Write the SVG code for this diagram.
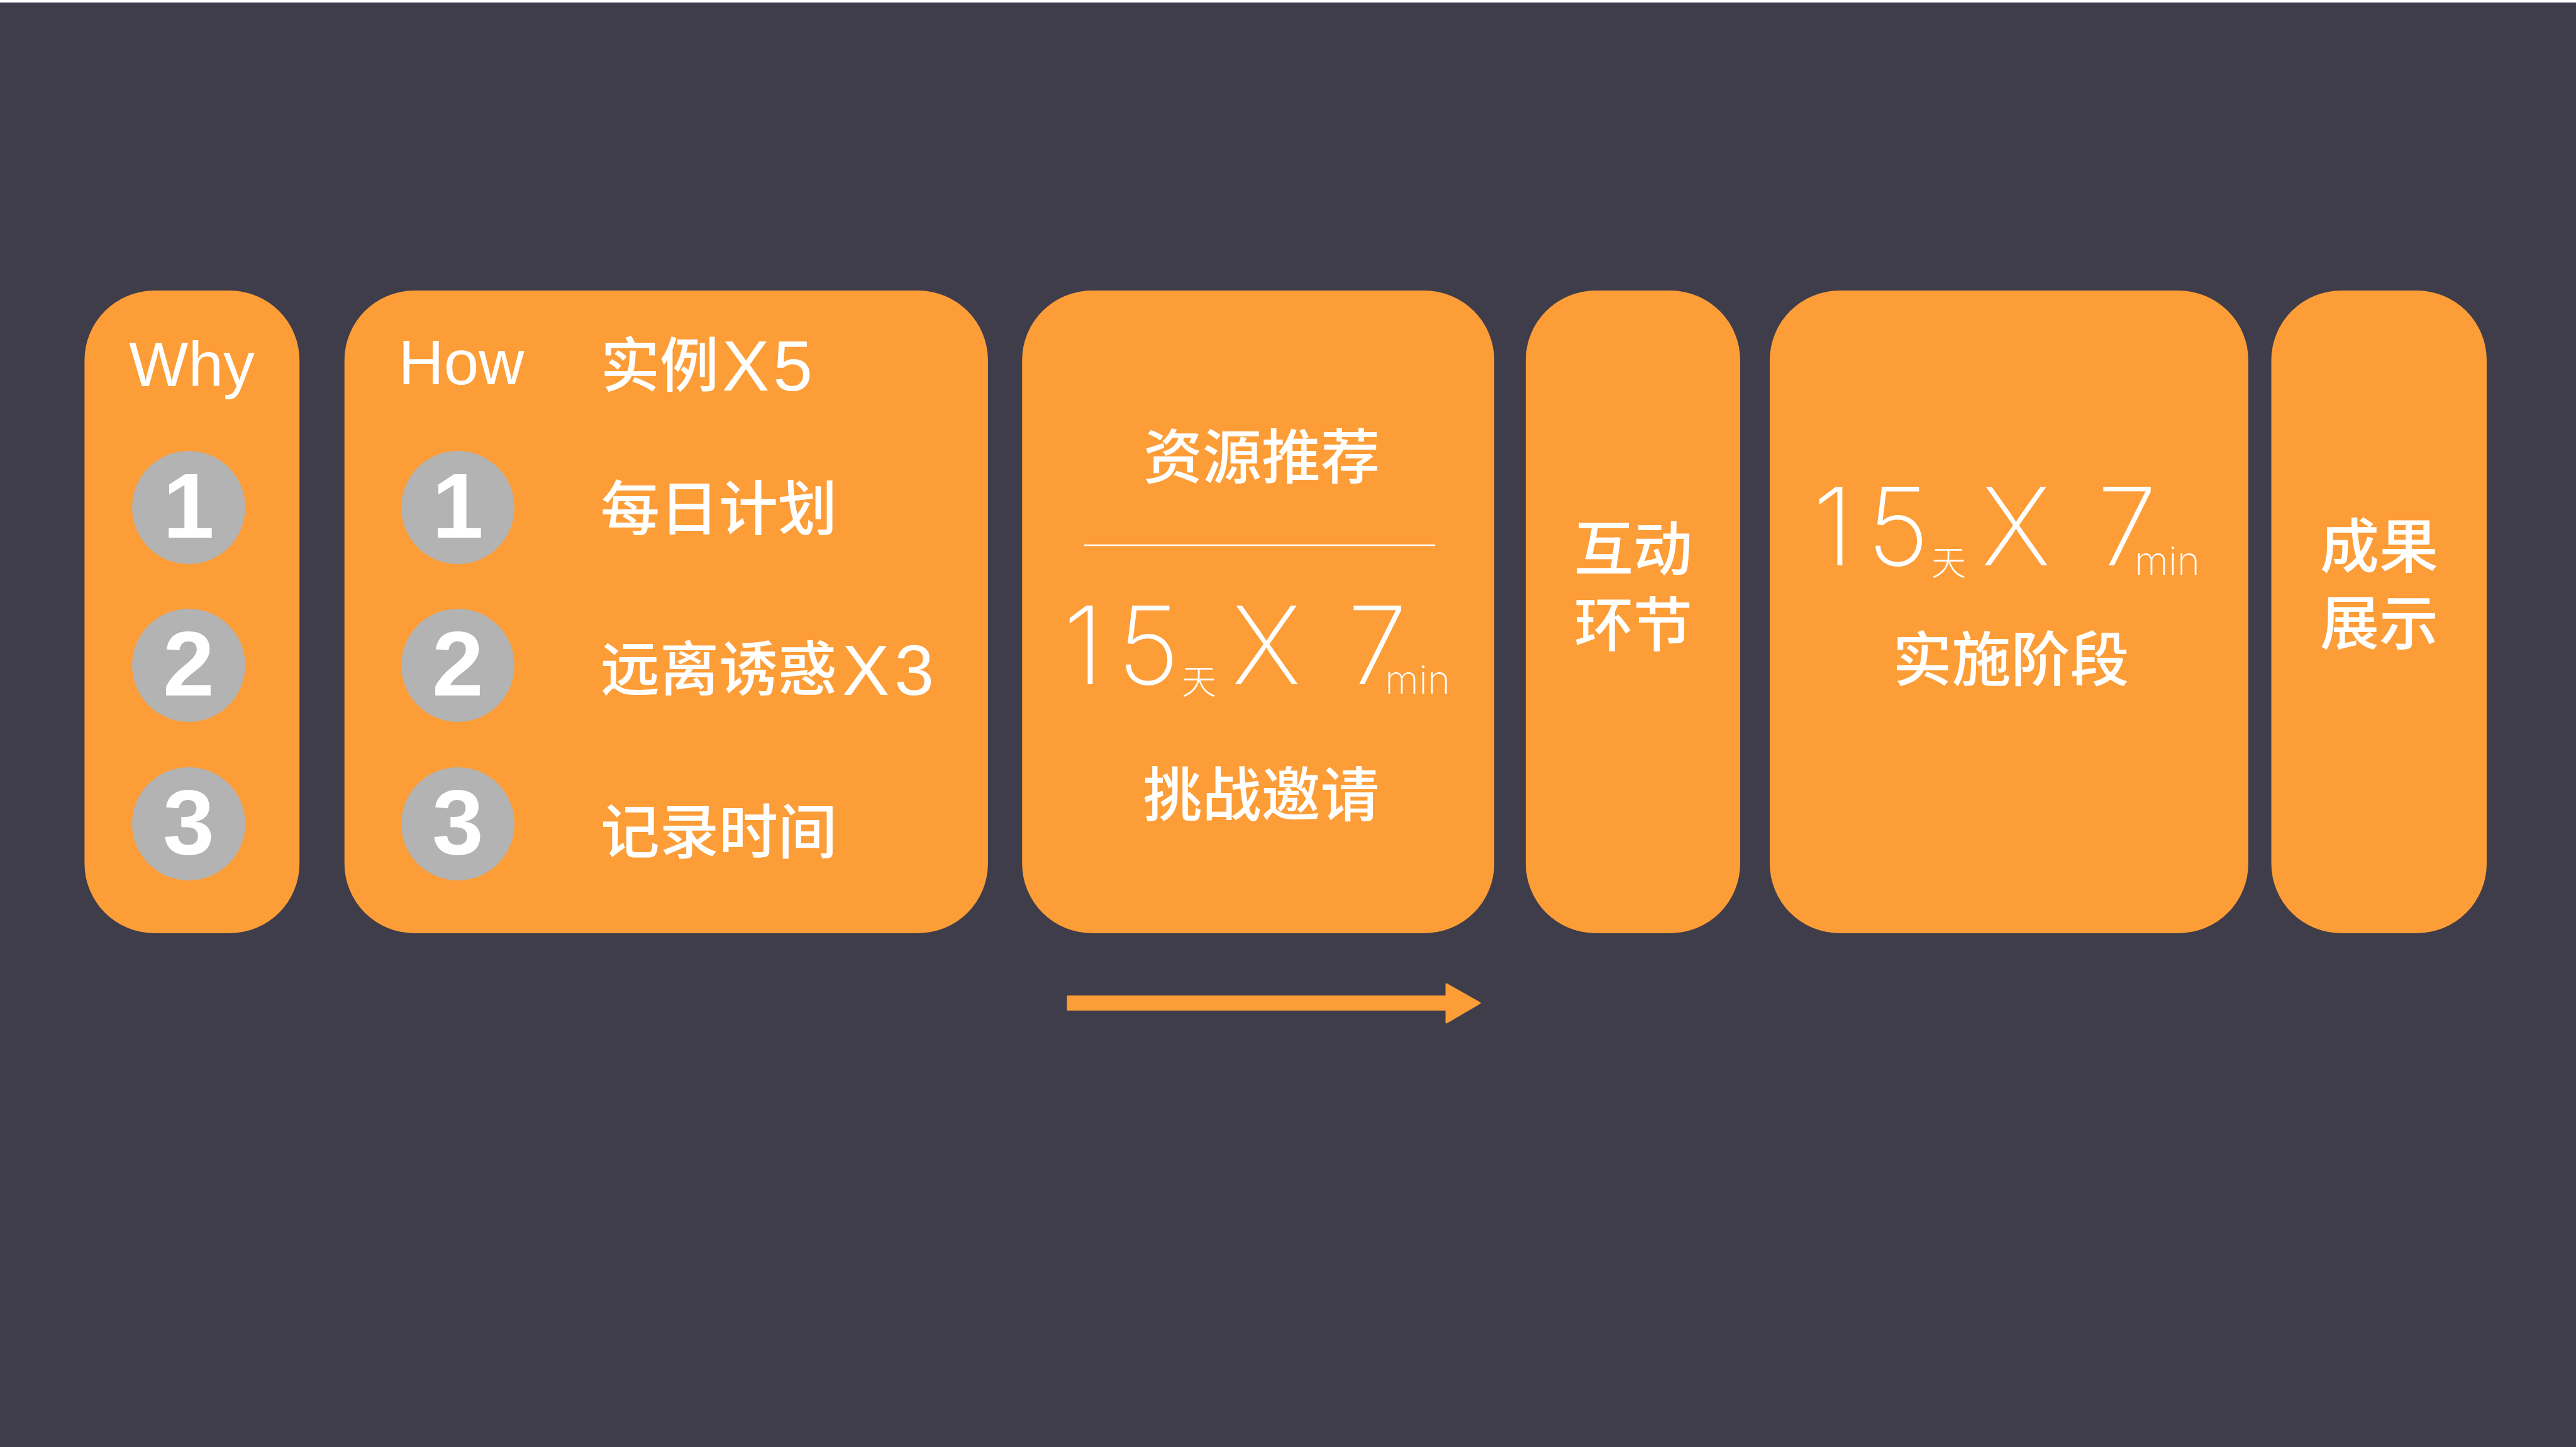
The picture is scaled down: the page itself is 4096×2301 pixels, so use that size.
<svg xmlns="http://www.w3.org/2000/svg" width="4096" height="2301" viewBox="0 0 4096 2301">
<defs>
<style>
.bg{fill:#403d4a}
.box{fill:#fc9d37}
.dot{fill:#b3b3b3}
.lat{font-family:"Liberation Sans",Arial,sans-serif;fill:#ffffff}
.cjk{font-family:"Noto Sans CJK SC","Noto Sans CJK JP",sans-serif;font-weight:500;fill:#ffffff;font-size:94px}
.num{font-family:"Liberation Sans",Arial,sans-serif;font-weight:bold;fill:#ffffff;font-size:147px;text-anchor:middle}
.thin{font-family:Inter,Roboto,"Open Sans",sans-serif;font-weight:200;fill:#ffffff}
.thincjk{font-family:"Noto Sans CJK SC",sans-serif;font-weight:300;fill:#ffffff}
.mid{text-anchor:middle}
</style>
</defs>
<rect class="bg" x="0" y="0" width="4096" height="2301"/>
<rect x="0" y="0" width="4096" height="4" fill="#ffffff"/>

<g id="why">
<rect class="box" x="134.4" y="462" width="341.8" height="1022" rx="111" ry="111"/>
<text class="lat" x="205" y="613.6" font-size="100">Why</text>
<circle class="dot" cx="300" cy="807" r="90"/>
<circle class="dot" cx="300" cy="1058" r="90"/>
<circle class="dot" cx="300" cy="1310" r="90"/>
<text class="num" x="300" y="855">1</text>
<text class="num" x="300" y="1106">2</text>
<text class="num" x="300" y="1358">3</text>
</g>

<g id="how">
<rect class="box" x="547.7" y="462" width="1023.2" height="1022" rx="111" ry="111"/>
<text class="lat" x="633.5" y="611" font-size="100">How</text>
<text class="cjk" x="955" y="615">实例<tspan class="lat" x="1148" y="620.6" font-size="113" letter-spacing="6">X5</tspan></text>
<circle class="dot" cx="728" cy="807" r="90"/>
<circle class="dot" cx="728" cy="1058" r="90"/>
<circle class="dot" cx="728" cy="1310" r="90"/>
<text class="num" x="728" y="855">1</text>
<text class="num" x="728" y="1106">2</text>
<text class="num" x="728" y="1358">3</text>
<text class="cjk" x="955" y="843">每日计划</text>
<text class="cjk" x="955" y="1098">远离诱惑<tspan class="lat" x="1339" y="1105" font-size="113" letter-spacing="8">X3</tspan></text>
<text class="cjk" x="955" y="1357">记录时间</text>
</g>

<g id="challenge">
<rect class="box" x="1625.2" y="462" width="750.8" height="1022" rx="111" ry="111"/>
<text class="cjk mid" x="2006" y="761">资源推荐</text>
<line x1="1724" y1="867" x2="2282" y2="867" stroke="#ffffff" stroke-width="2.5"/>
<g id="formula1">
<text class="thin" x="1690" y="1087.6" font-size="172">1</text>
<text class="thin mid" x="1826" y="1087.6" font-size="172">5</text>
<text class="thincjk" x="1879" y="1103" font-size="55">天</text>
<text class="thin mid" x="2013.5" y="1087.6" font-size="172">X</text>
<text class="thin mid" x="2190" y="1087.6" font-size="172">7</text>
<text class="thin" x="2202" y="1103" font-size="62">min</text>
</g>
<text class="cjk mid" x="2005.5" y="1298">挑战邀请</text>
</g>

<g id="interact">
<rect class="box" x="2426" y="462" width="341" height="1022" rx="111" ry="111"/>
<text class="cjk mid" x="2597" y="907" font-size="102">互动</text>
<text class="cjk mid" x="2597" y="1028" font-size="102">环节</text>
</g>

<g id="implement">
<rect class="box" x="2814" y="462" width="761" height="1022" rx="111" ry="111"/>
<g id="formula2" transform="translate(1192,-188.6)">
<text class="thin" x="1690" y="1087.6" font-size="172">1</text>
<text class="thin mid" x="1826" y="1087.6" font-size="172">5</text>
<text class="thincjk" x="1879" y="1103" font-size="55">天</text>
<text class="thin mid" x="2013.5" y="1087.6" font-size="172">X</text>
<text class="thin mid" x="2190" y="1087.6" font-size="172">7</text>
<text class="thin" x="2202" y="1103" font-size="62">min</text>
</g>
<text class="cjk mid" x="3197.6" y="1083">实施阶段</text>
</g>

<g id="result">
<rect class="box" x="3611.5" y="462" width="342.5" height="1022" rx="111" ry="111"/>
<text class="cjk mid" x="3783" y="903" font-size="102">成果</text>
<text class="cjk mid" x="3783" y="1025" font-size="102">展示</text>
</g>

<g id="connectors">
<polygon points="1698,1584.5 2300,1584.5 2300,1565 2353,1595 2300,1626 2300,1605.5 1698,1605.5" fill="#fc9d37" stroke="#fc9d37" stroke-width="3" stroke-linejoin="round"/>
</g>
</svg>
